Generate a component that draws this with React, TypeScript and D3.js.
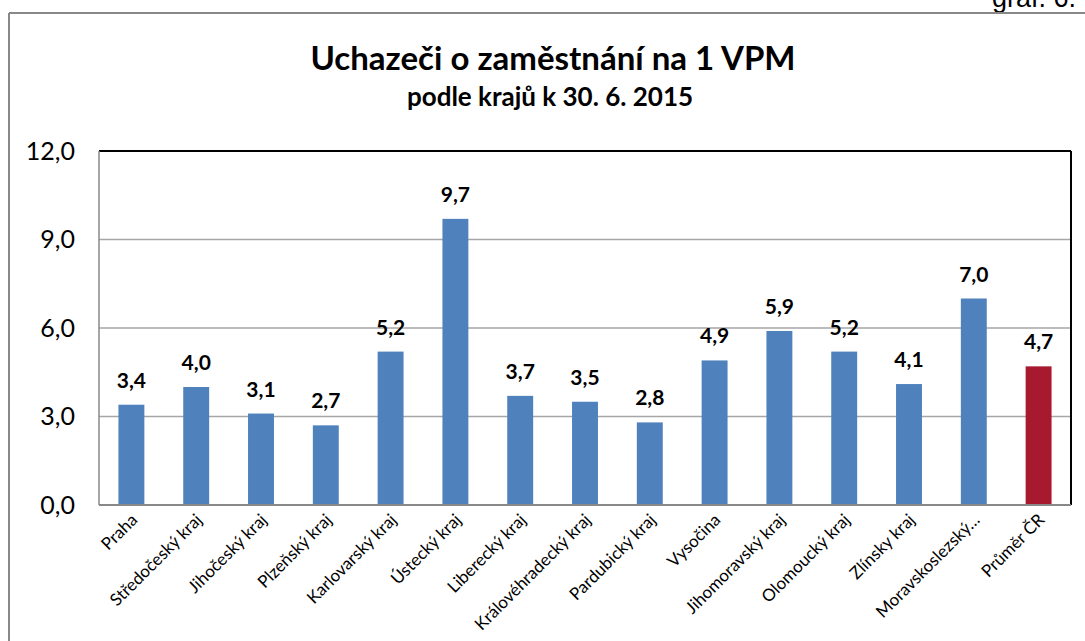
import React from "react";
import * as d3 from "d3";

const categories = [
  "Praha", "Středočeský kraj", "Jihočeský kraj", "Plzeňský kraj", "Karlovarský kraj",
  "Ústecký kraj", "Liberecký kraj", "Královéhradecký kraj", "Pardubický kraj", "Vysočina",
  "Jihomoravský kraj", "Olomoucký kraj", "Zlínsky kraj", "Moravskoslezský…", "Průměr ČR",
];
const values = [3.4, 4.0, 3.1, 2.7, 5.2, 9.7, 3.7, 3.5, 2.8, 4.9, 5.9, 5.2, 4.1, 7.0, 4.7];
const yTicks = [0, 3, 6, 9, 12];
const title = "Uchazeči o zaměstnání na 1 VPM";
const subtitle = "podle krajů k 30. 6. 2015";

const W = 1085, H = 641;
const plot = { left: 99, right: 1071, top: 151, bottom: 505 };
const FONT = "Lato, 'Open Sans', sans-serif";

export default function App() {
  const x = d3.scaleBand<string>().domain(categories).range([plot.left, plot.right]).paddingInner(0.6).paddingOuter(0.3);
  const y = d3.scaleLinear().domain([0, 12]).range([plot.bottom, plot.top]);
  const fmt = (v: number) => v.toFixed(1).replace(".", ",");
  return (
    <svg width={W} height={H} style={{ position: "absolute", left: 0, top: 0, background: "#fff" }}>
      <rect x={0} y={0} width={W} height={H} fill="#fff" />
      <text x={1076} y={7} textAnchor="end" fontFamily="Arial, 'Liberation Sans', sans-serif" fontSize={27} fill="#000">graf. 6.</text>
      <line x1={9} y1={13} x2={W} y2={13} stroke="#888" strokeWidth={2} />
      <line x1={9} y1={13} x2={9} y2={H} stroke="#888" strokeWidth={2} />
      <text x={553} y={70} textAnchor="middle" fontFamily={FONT} fontWeight="bold" fontSize={33} fill="#000">{title}</text>
      <text x={550} y={106} textAnchor="middle" fontFamily={FONT} fontWeight="bold" fontSize={26} fill="#000">{subtitle}</text>
      {yTicks.map((t) => (
        <g key={t}>
          {t > 0 && t < 12 && (
            <line x1={plot.left} x2={plot.right} y1={y(t)} y2={y(t)} stroke="#a6a6a6" strokeWidth={1.5} />
          )}
          <text x={75} y={y(t)} dy="0.35em" textAnchor="end" fontFamily={FONT} fontSize={25} fill="#000">{fmt(t)}</text>
        </g>
      ))}
      {categories.map((c, i) => (
        <g key={c}>
          <rect x={x(c)} y={y(values[i])} width={x.bandwidth()} height={y(0) - y(values[i])}
            fill={i === categories.length - 1 ? "#A6192E" : "#4F81BD"} />
          <text x={(x(c) as number) + x.bandwidth() / 2} y={y(values[i]) - 17} textAnchor="middle"
            fontFamily={FONT} fontWeight="bold" fontSize={21} fill="#000">{fmt(values[i])}</text>
          <text transform={`translate(${(x(c) as number) + x.bandwidth() / 2 + 7},${plot.bottom + 16}) rotate(-45)`}
            textAnchor="end" fontFamily={FONT} fontSize={17} fill="#000">{c}</text>
        </g>
      ))}
      <line x1={plot.left} x2={plot.right} y1={plot.top} y2={plot.top} stroke="#000" strokeWidth={2} />
      <line x1={plot.right} x2={plot.right} y1={plot.top} y2={plot.bottom} stroke="#000" strokeWidth={2} />
      <line x1={plot.left} x2={plot.left} y1={plot.top} y2={plot.bottom} stroke="#888" strokeWidth={1.5} />
      <line x1={plot.left} x2={plot.right} y1={plot.bottom} y2={plot.bottom} stroke="#888" strokeWidth={2} />
    </svg>
  );
}
